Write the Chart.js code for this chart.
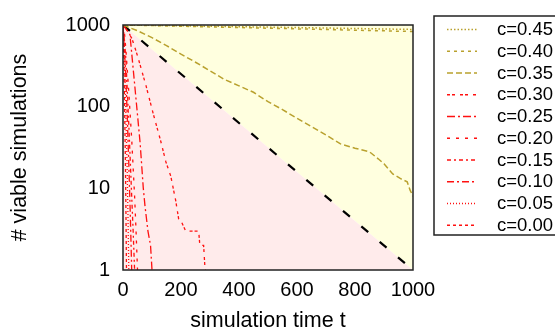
<!DOCTYPE html>
<html>
<head>
<meta charset="utf-8">
<script src="https://cdn.jsdelivr.net/npm/chart.js@4"></script>
<style>
html,body{margin:0;padding:0;background:#fff;}
#wrap{width:555px;height:335px;position:relative;}
</style>
</head>
<body>
<div id="wrap"><canvas id="c" width="555" height="335"></canvas></div>
<script>
// ---- data ----
const labels = ["c=0.45","c=0.40","c=0.35","c=0.30","c=0.25","c=0.20","c=0.15","c=0.10","c=0.05","c=0.00"];

const t045 = [0,100,200,300,400,500,600,700,800,900,1000];
const v045 = [1000,990,978,966,954,942,930,918,906,894,882];

const t040 = [0,100,200,300,400,500,600,700,800,900,1000];
const v040 = [1000,984,966,948,931,914,897,880,864,848,832];

const t035 = [0,50,100,150,200,250,300,350,400,450,500,550,600,650,700,750,800,850,880,900,930,960,980,990,1000];
const v035 = [1000,850,700,560,440,350,275,215,180,150,115,92,72,57,45,35,31,28,23,20,15,13,12,9.5,8];

const t030 = [0,15,31,50,80,105,130,148,165,182,192,200,216,261,265,278,283,285];
const v030 = [1000,850,680,420,177,80,38,21,14,7,4.2,4,3,3,2,2,1,1];

const t025 = [0,10,24,40,59,65,70,76,86,95,100];
const v025 = [1000,900,760,190,36,18,10,6,3,2,1];

const t020 = [0,5,10,20,30,40,45,50];
const v020 = [1000,800,500,150,40,8,3,1];

const t015 = [0,5,10,20,30,35,40];
const v015 = [1000,650,380,60,8,3,1];

const t010 = [0,5,10,15,20,25,30];
const v010 = [1000,500,220,70,20,5,1];

const t005 = [0,3,6,10,14,17,20];
const v005 = [1000,600,280,80,20,5,1];

const t000 = [0,2,4,6,8,10,12];
const v000 = [1000,550,230,80,25,6,1];

// boundary between regions (straight line in log space)
const boundaryT = [0,1000];
const boundaryV = [1000,1];
const topT = [0,1000];
const topV = [1000,1000];

const xTicks = [0,200,400,600,800,1000];
const yTicks = [1,10,100,1000];

// ---- build chart ----
const pts = (t,v) => t.map((x,i)=>({x:x,y:v[i]}));
const GOLD = '#b9a12e';
const RED = '#ff1010';
const series = [
  {t:t045,v:v045,color:GOLD,dash:[1.5,2]},
  {t:t040,v:v040,color:GOLD,dash:[3,4]},
  {t:t035,v:v035,color:GOLD,dash:[6,3]},
  {t:t030,v:v030,color:RED,dash:[3,2,3,5]},
  {t:t025,v:v025,color:RED,dash:[8,3,2,3]},
  {t:t020,v:v020,color:RED,dash:[3,6]},
  {t:t015,v:v015,color:RED,dash:[4,3,2,3]},
  {t:t010,v:v010,color:RED,dash:[7,3,2,3]},
  {t:t005,v:v005,color:RED,dash:[1,2]},
  {t:t000,v:v000,color:RED,dash:[3,3]},
];

const datasets = series.map((s,i)=>({
  label: labels[i],
  data: pts(s.t,s.v),
  borderColor: s.color,
  borderDash: s.dash,
  borderWidth: s.color===RED ? 1.3 : 1.5,
  pointRadius: 0,
  tension: 0,
  fill: false,
  order: 1,
}));
const nSeries = datasets.length;
datasets.push({
  label: 'boundary',
  data: pts(boundaryT,boundaryV),
  borderColor: '#000',
  borderDash: [9,15],
  borderWidth: 2.2,
  pointRadius: 0,
  fill: {target:'start'},
  backgroundColor: '#ffebeb',
  order: 5,
});
datasets.push({
  label: 'top',
  data: pts(topT,topV),
  borderWidth: 0,
  borderColor: 'rgba(0,0,0,0)',
  pointRadius: 0,
  fill: {target: nSeries},
  backgroundColor: '#ffffdf',
  order: 6,
});

const FONT = "'Liberation Sans', Arial, Helvetica, sans-serif";

const frameAndLegend = {
  id: 'frameAndLegend',
  afterDraw(chart){
    const ctx = chart.ctx;
    const a = chart.chartArea;
    ctx.save();
    ctx.strokeStyle = '#222';
    ctx.lineWidth = 1.5;
    ctx.setLineDash([]);
    ctx.strokeRect(a.left, a.top, a.right-a.left, a.bottom-a.top);
    // legend box
    ctx.lineWidth = 1.5;
    ctx.strokeStyle = '#222';
    ctx.strokeRect(434, 16, 140, 219);
    ctx.font = "18.5px " + FONT;
    ctx.textBaseline = 'middle';
    ctx.textAlign = 'left';
    for (let i=0;i<nSeries;i++){
      const ds = chart.data.datasets[i];
      const y = 29 + i*21.75;
      ctx.strokeStyle = ds.borderColor;
      ctx.lineWidth = 1.5;
      ctx.setLineDash(ds.borderDash);
      ctx.beginPath();
      ctx.moveTo(447, y+0.5);
      ctx.lineTo(477, y+0.5);
      ctx.stroke();
      ctx.setLineDash([]);
      ctx.fillStyle = '#000';
      ctx.fillText(ds.label, 497, y+1);
    }
    ctx.restore();
  }
};

new Chart(document.getElementById('c'), {
  type: 'line',
  data: { datasets },
  options: {
    responsive: false,
    animation: false,
    devicePixelRatio: 1,
    layout: { padding: { left: 0, right: 142, top: 15, bottom: 0 } },
    plugins: { legend: { display:false }, tooltip: { enabled:false } },
    scales: {
      x: {
        type: 'linear', min: 0, max: 1000,
        afterBuildTicks(scale){ scale.ticks = xTicks.map(v=>({value:v})); },
        afterFit(scale){ scale.height = 65; },
        grid: { display:false, drawTicks:false },
        border: { display:false },
        ticks: { color:'#000', font:{family:FONT,size:20}, padding: 8, maxRotation:0,
                 callback: v => String(v) },
        title: { display:true, text:'simulation time t', color:'#000',
                 font:{family:FONT,size:21.5}, padding:{top:0,bottom:1} }
      },
      y: {
        type: 'logarithmic', min: 1, max: 1000,
        afterBuildTicks(scale){ scale.ticks = yTicks.map(v=>({value:v})); },
        afterFit(scale){ scale.width = 123; },
        grid: { display:false, drawTicks:false },
        border: { display:false },
        ticks: { color:'#000', font:{family:FONT,size:20}, padding: 13,
                 callback: v => String(v) },
        title: { display:true, text:'# viable simulations', color:'#000',
                 font:{family:FONT,size:21.5}, padding:{top:7,bottom:0} }
      }
    }
  },
  plugins: [frameAndLegend]
});
</script>
</body>
</html>
